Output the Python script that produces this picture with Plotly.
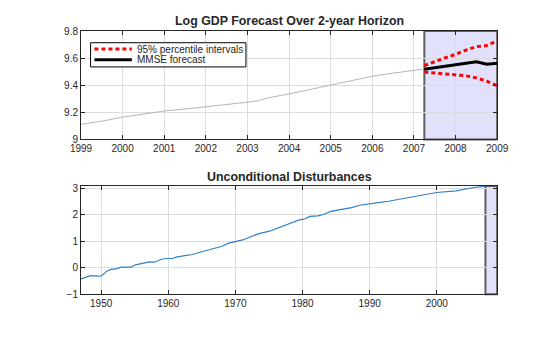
import plotly.graph_objects as go

# ---------------- data ----------------
gdp_years = [1999.0, 1999.5, 2000.0, 2000.5, 2001.0, 2001.5, 2002.0, 2002.5,
             2003.0, 2003.25, 2003.5, 2004.0, 2004.5, 2005.0, 2005.5, 2006.0,
             2006.5, 2007.0, 2007.25]
gdp_log = [9.112, 9.135, 9.165, 9.190, 9.210, 9.225, 9.240, 9.258,
           9.275, 9.285, 9.308, 9.336, 9.370, 9.402, 9.435, 9.467,
           9.490, 9.507, 9.520]

fc_years = [2007.25, 2007.5, 2007.75, 2008.0, 2008.25, 2008.5, 2008.75, 2009.0]
fc_mmse = [9.518, 9.527, 9.540, 9.552, 9.562, 9.573, 9.555, 9.562]
fc_upper = [9.545, 9.575, 9.603, 9.628, 9.660, 9.685, 9.693, 9.728]
fc_lower = [9.498, 9.490, 9.482, 9.477, 9.470, 9.455, 9.430, 9.398]

dist_years = [1947.0, 1947.7, 1948.4, 1949.1, 1949.9, 1950.3, 1950.8, 1951.5,
              1952.2, 1953.0, 1953.7, 1954.4, 1955.1, 1955.8, 1956.5, 1957.2,
              1957.9, 1958.4, 1959.1, 1959.9, 1960.6, 1961.3, 1962.0, 1962.7,
              1963.4, 1964.2, 1965.6, 1967.0, 1968.0, 1968.9, 1970.1, 1971.1,
              1972.3, 1973.5, 1975.1, 1976.3, 1977.5, 1978.5, 1979.4, 1980.4,
              1981.1, 1982.3, 1983.2, 1984.2, 1985.6, 1987.3, 1988.5, 1989.9,
              1991.3, 1992.8, 1994.7, 1995.6, 1998.0, 2000.0, 2002.9, 2005.3,
              2007.25]
dist_values = [-0.42, -0.37, -0.30, -0.31, -0.32, -0.26, -0.13, -0.06,
               -0.04, 0.02, 0.03, 0.02, 0.11, 0.14, 0.18, 0.22,
               0.21, 0.27, 0.33, 0.35, 0.35, 0.41, 0.45, 0.47,
               0.49, 0.55, 0.63, 0.75, 0.81, 0.92, 0.99, 1.05,
               1.17, 1.29, 1.38, 1.50, 1.60, 1.71, 1.80, 1.85,
               1.94, 1.96, 2.02, 2.13, 2.20, 2.27, 2.36, 2.42,
               2.46, 2.51, 2.59, 2.63, 2.73, 2.84, 2.90, 3.02,
               3.08]

top_title = "Log GDP Forecast Over 2-year Horizon"
bottom_title = "Unconditional Disturbances"
legend_names = ["95% percentile intervals", "MMSE forecast"]
top_yticks = [9, 9.2, 9.4, 9.6, 9.8]
top_yticklabels = ["9", "9.2", "9.4", "9.6", "9.8"]
top_xticks = list(range(1999, 2010))
bottom_xticks = [1950, 1960, 1970, 1980, 1990, 2000]
bottom_yticks = [-1, 0, 1, 2, 3]

# ---------------- figure ----------------
W, H = 560, 337
FONT = "Arial, 'Liberation Sans', Helvetica, sans-serif"
TXT = "#262626"
GRID = "#dcdcdc"
RED = "#ff0000"
DASH = "4px,3px"

fig = go.Figure()

fig.add_trace(go.Scatter(x=gdp_years, y=gdp_log, mode="lines",
                         line=dict(color="#b5b5b5", width=1),
                         showlegend=False, xaxis="x", yaxis="y"))
fig.add_trace(go.Scatter(x=fc_years, y=fc_upper, mode="lines",
                         name=legend_names[0], showlegend=False,
                         line=dict(color=RED, width=3, dash=DASH),
                         xaxis="x", yaxis="y"))
fig.add_trace(go.Scatter(x=fc_years, y=fc_mmse, mode="lines",
                         name=legend_names[1], showlegend=False,
                         line=dict(color="#000000", width=3),
                         xaxis="x", yaxis="y"))
fig.add_trace(go.Scatter(x=fc_years, y=fc_lower, mode="lines",
                         name=legend_names[0], showlegend=False,
                         line=dict(color=RED, width=3, dash=DASH),
                         xaxis="x", yaxis="y"))
fig.add_trace(go.Scatter(x=dist_years, y=dist_values, mode="lines",
                         line=dict(color="#2f80c9", width=1.2),
                         showlegend=False, xaxis="x2", yaxis="y2"))


def px_x(p):
    return p / W


def px_y(p):
    return 1 - p / H


axis_common = dict(showline=True, linecolor=TXT, linewidth=1, mirror="ticks",
                   ticks="inside", ticklen=4, tickcolor=TXT,
                   showgrid=True, gridcolor=GRID, gridwidth=1,
                   zeroline=False, tickfont=dict(family=FONT, size=10, color=TXT))

# compact MATLAB-style legend box (drawn as layout decorations)
leg_x0, leg_x1, leg_y0, leg_y1 = 83, 245, 39, 64
leg_rows = [45.5, 56.5]
shapes = [
    dict(type="rect", xref="x", yref="y domain",
         x0=fc_years[0], x1=fc_years[-1], y0=0, y1=1,
         fillcolor="#e1e1fb", line=dict(color="#5f5f5f", width=2), layer="below"),
    dict(type="rect", xref="x2", yref="y2 domain",
         x0=dist_years[-1], x1=fc_years[-1], y0=0, y1=1,
         fillcolor="#e1e1fb", line=dict(color="#5f5f5f", width=2), layer="below"),
    dict(type="rect", xref="paper", yref="paper",
         x0=px_x(leg_x0), x1=px_x(leg_x1), y0=px_y(leg_y1), y1=px_y(leg_y0),
         fillcolor="white", line=dict(color="#000000", width=1), layer="above"),
    dict(type="line", xref="paper", yref="paper",
         x0=px_x(87), x1=px_x(126), y0=px_y(leg_rows[0]), y1=px_y(leg_rows[0]),
         line=dict(color=RED, width=3, dash=DASH), layer="above"),
    dict(type="line", xref="paper", yref="paper",
         x0=px_x(87), x1=px_x(126), y0=px_y(leg_rows[1]), y1=px_y(leg_rows[1]),
         line=dict(color="#000000", width=3), layer="above"),
]

annotations = [
    dict(text="<b>" + top_title + "</b>", xref="paper", yref="paper",
         x=px_x(290), y=px_y(17), xanchor="center", yanchor="middle",
         showarrow=False, font=dict(family=FONT, size=12.4, color=TXT)),
    dict(text="<b>" + bottom_title + "</b>", xref="paper", yref="paper",
         x=px_x(290), y=px_y(178), xanchor="center", yanchor="middle",
         showarrow=False, font=dict(family=FONT, size=12.4, color=TXT)),
]
for name, row in zip(legend_names, leg_rows):
    annotations.append(dict(text=name, xref="paper", yref="paper",
                            x=px_x(129), y=px_y(row), xanchor="left", yanchor="middle",
                            showarrow=False, font=dict(family=FONT, size=10, color=TXT)))

fig.update_layout(
    width=W, height=H, autosize=False,
    margin=dict(l=0, r=0, t=0, b=0),
    paper_bgcolor="white", plot_bgcolor="white",
    font=dict(family=FONT, size=10, color=TXT),
    showlegend=False,
    xaxis=dict(domain=[px_x(73), px_x(507)], range=[top_xticks[0], top_xticks[-1]],
               tickvals=top_xticks, anchor="y", **axis_common),
    yaxis=dict(domain=[px_y(139), px_y(27)], range=[top_yticks[0], top_yticks[-1]],
               tickvals=top_yticks, ticktext=top_yticklabels, anchor="x", **axis_common),
    xaxis2=dict(domain=[px_x(73), px_x(507)], range=[1947, 2009],
                tickvals=bottom_xticks, anchor="y2", **axis_common),
    yaxis2=dict(domain=[px_y(299), px_y(187)], range=[-1, 3.09],
                tickvals=bottom_yticks, anchor="x2", **axis_common),
    shapes=shapes,
    annotations=annotations,
)

fig.write_html("out.html", config={"displayModeBar": False})
